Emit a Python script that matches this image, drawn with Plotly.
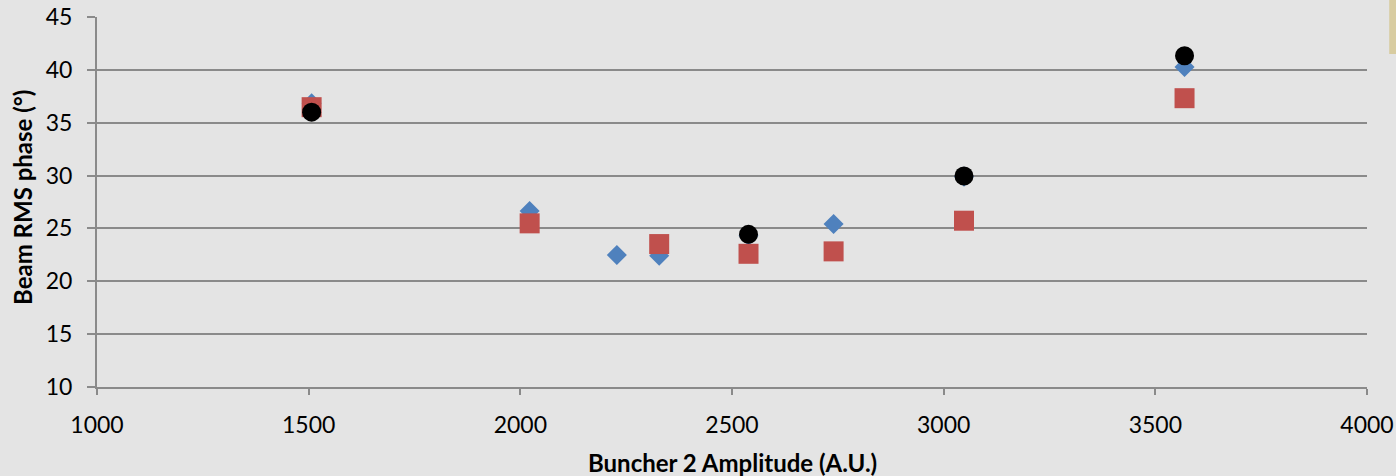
import plotly.graph_objects as go

blue_x = [1507, 2022, 2228, 2328, 2539, 2740, 3048, 3569]
blue_y = [36.85, 26.65, 22.48, 22.41, 24.3, 25.41, 29.9, 40.26]
red_x = [1507, 2022, 2328, 2539, 2740, 3048, 3569]
red_y = [36.47, 25.48, 23.52, 22.6, 22.83, 25.73, 37.32]
black_x = [1507, 2539, 3048, 3569]
black_y = [36.0, 24.44, 29.96, 41.33]

x_ticks = [1000, 1500, 2000, 2500, 3000, 3500, 4000]
y_ticks = [10, 15, 20, 25, 30, 35, 40, 45]
x_title = "Buncher 2 Amplitude (A.U.)"
y_title = "Beam RMS phase (°)"

font_family = "Lato, 'Open Sans', sans-serif"

fig = go.Figure()
fig.add_trace(go.Scatter(x=blue_x, y=blue_y, mode="markers", name="Series 1",
                         marker=dict(symbol="diamond", size=15.4, color="#4F81BD", line=dict(width=0))))
fig.add_trace(go.Scatter(x=red_x, y=red_y, mode="markers", name="Series 2",
                         marker=dict(symbol="square", size=20, color="#C0504D", line=dict(width=0))))
fig.add_trace(go.Scatter(x=black_x, y=black_y, mode="markers", name="Series 3",
                         marker=dict(symbol="circle", size=19, color="#000000", line=dict(width=0))))

fig.update_layout(
    width=1396, height=476,
    margin=dict(l=97, r=29, t=17, b=89),
    paper_bgcolor="#e4e4e4", plot_bgcolor="#e4e4e4",
    showlegend=False,
    font=dict(family=font_family, color="#000000"),
    xaxis=dict(range=[1000, 4000], tickvals=x_ticks, ticktext=[str(v) for v in x_ticks],
               showgrid=False, zeroline=False, showline=True, linecolor="#8a8a8a", linewidth=2,
               ticks="outside", ticklen=6, tickwidth=2, tickcolor="#8a8a8a",
               tickfont=dict(size=23), ticklabelstandoff=10, automargin=False),
    yaxis=dict(range=[10, 45], tickvals=y_ticks, ticktext=[str(v) for v in y_ticks],
               showgrid=True, gridcolor="#8a8a8a", gridwidth=2, zeroline=False,
               showline=True, linecolor="#8a8a8a", linewidth=2,
               ticks="outside", ticklen=8, tickwidth=2, tickcolor="#8a8a8a",
               tickfont=dict(size=23), ticklabelstandoff=10, automargin=False),
)

fig.add_annotation(text="<b>" + x_title + "</b>", xref="paper", yref="paper", x=0.5, y=0,
                   xanchor="center", yanchor="middle", yshift=-75, showarrow=False,
                   font=dict(size=24, family=font_family, color="#000000"))
fig.add_annotation(text="<b>" + y_title + "</b>", xref="paper", yref="paper", x=0, y=0.5,
                   xanchor="center", yanchor="middle", xshift=-75, yshift=4, textangle=-90,
                   showarrow=False, font=dict(size=24, family=font_family, color="#000000"))

fig.add_shape(type="rect", xref="paper", yref="paper", x0=1.0175, x1=1.03, y0=0.9, y1=1.05,
              fillcolor="#d8cca0", line=dict(width=0), layer="below")

fig.write_html("out.html")
